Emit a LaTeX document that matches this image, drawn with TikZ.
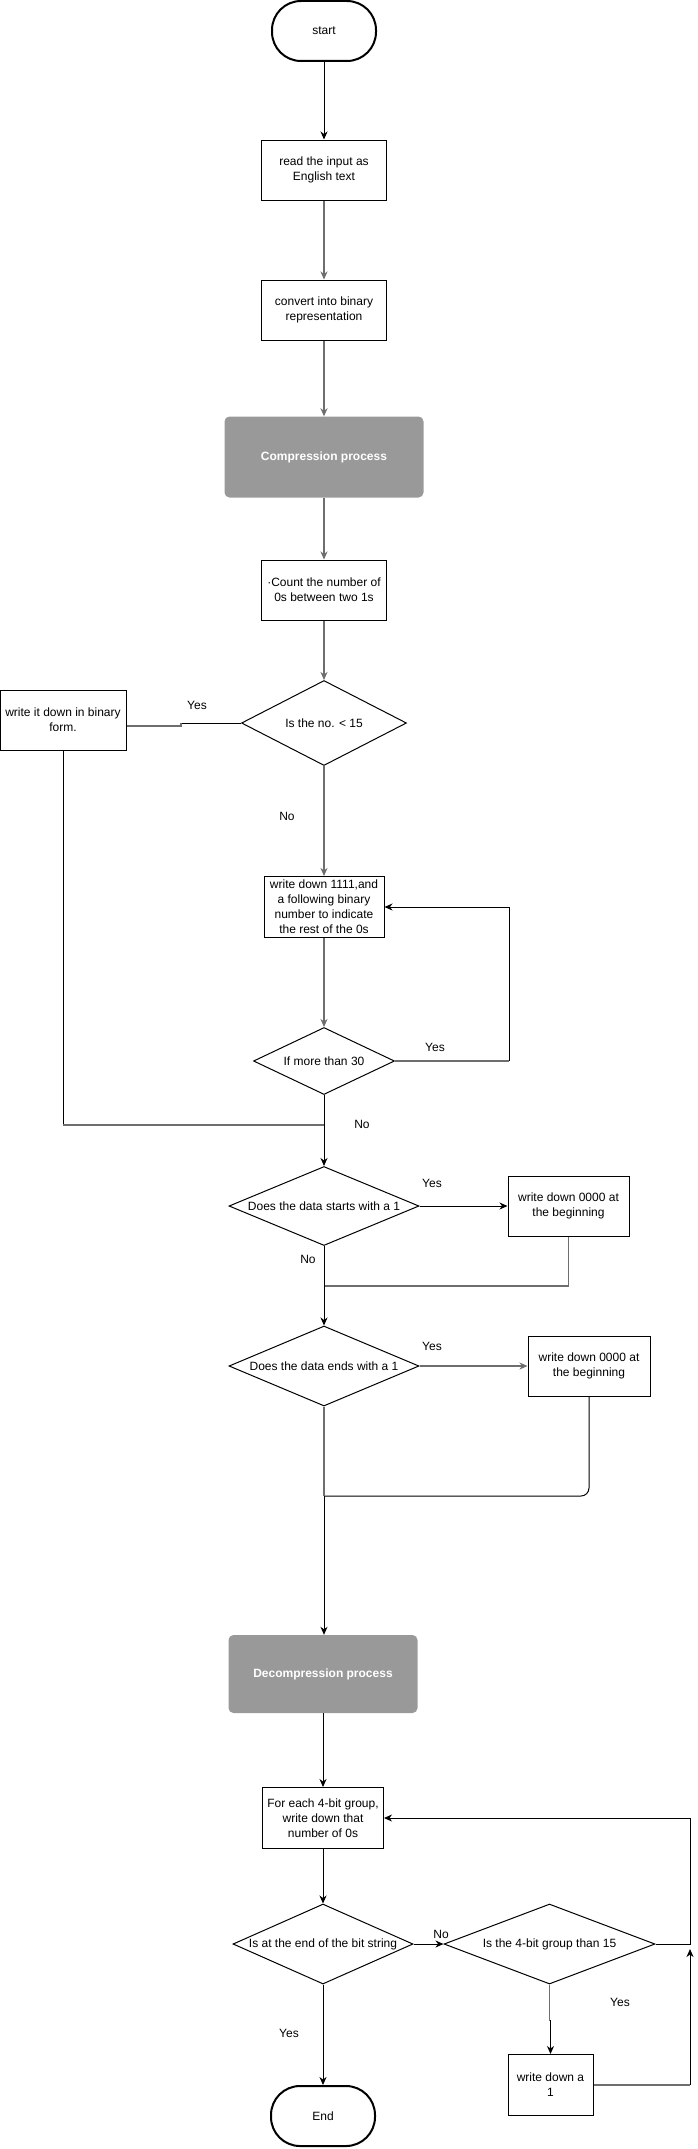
\documentclass[tikz,border=0pt]{standalone}
\usepackage{fontspec}
\setmainfont{Liberation Sans}
\usetikzlibrary{arrows.meta,shapes.geometric}
\definecolor{phasegray}{HTML}{999999}
\definecolor{wiregray}{HTML}{6E6E6E}
\newcommand{\Dtext}[1]{\makebox[0pt]{#1}}
\tikzset{
  every node/.style={font=\fontsize{12}{15}\selectfont},
  term/.style={draw=black,line width=2pt,rounded corners=29pt,minimum width=104pt,minimum height=60pt},
  box/.style={draw=black,line width=1pt,align=center,inner sep=2pt},
  phase/.style={fill=phasegray,rounded corners=5pt,text=white,font=\fontsize{12}{15}\selectfont\bfseries},
  decision/.style={diamond,draw=black,line width=1pt,inner sep=0pt},
  wire/.style={line width=1pt,draw=black},
  gwire/.style={line width=1.8pt,draw=wiregray},
}

\begin{document}
\begin{tikzpicture}[x=1pt,y=-1pt,>={Stealth[length=8pt,width=7pt,inset=2.5pt]}]
\useasboundingbox (0,0) rectangle (697,2149);
% compression
\node (start) [term] at (324,31) {start};
\node (read) [box,minimum width=125pt,minimum height=60pt] at (324,170) {read the input as\\English text};
\node (conv) [box,minimum width=125pt,minimum height=60pt] at (324,310) {convert into binary\\representation};
\node (comp) [phase,minimum width=199pt,minimum height=81pt] at (324,457) {Compression process};
\node (count) [box,minimum width=125pt,minimum height=60pt] at (324,590) {\textperiodcentered Count the number of\\0s between two 1s};
\node (less) [decision,minimum width=165pt,minimum height=85pt] at (324,723) {\Dtext{Is the no. < 15}};
\node (bin) [box,minimum width=126pt,minimum height=60pt] at (63,720) {write it down in binary\\form.};
\node (four) [box,minimum width=120pt,minimum height=61pt] at (324,907) {write down 1111,and\\a following binary\\number to indicate\\the rest of the 0s};
\node (more) [decision,minimum width=141pt,minimum height=67pt] at (324,1061) {\Dtext{If more than 30}};
\node (starts) [decision,minimum width=190pt,minimum height=79pt] at (324,1206) {\Dtext{Does the data starts with a 1}};
\node (zs) [box,minimum width=121pt,minimum height=60pt] at (568.5,1206) {write down 0000 at\\the beginning};
\node (ends) [decision,minimum width=190pt,minimum height=80pt] at (324,1366) {\Dtext{Does the data ends with a 1}};
\node (ze) [box,minimum width=122pt,minimum height=60pt] at (589,1366) {write down 0000 at\\the beginning};
\coordinate (mg1) at (324,1125);
\coordinate (mg2) at (324,1286);
\coordinate (mg3) at (324,1496);
%
\path[->,wire] (start) edge (read);
\path[->,gwire] (read) edge (conv);
\path[->,gwire] (conv) edge (comp);
\path[->,gwire] (comp) edge (count);
\path[->,gwire] (count) edge (less);
\path[->,gwire] (less) edge (four);
\path[->,gwire] (four) edge (more);
\draw[wire] (less.west) -- ++(-60,0) coordinate (step);
\draw[gwire] (step) |- ([yshift=-6pt]bin.east);
\draw[wire] (bin.south) -- (bin.south |- mg1);
\draw[gwire] (bin.south |- mg1) -- (mg1);
\draw[gwire] (more.east) -- ++(114,0) coordinate (loop);
\draw[->,wire] (loop) |- (four.east);
\path[->,wire] (more) edge (starts);
\path[->,wire] (starts) edge (zs);
\draw[gwire] (zs.south) |- (mg2);
\path[->,wire] (starts) edge (ends);
\path[->,gwire] (ends) edge (ze);
\draw[wire,rounded corners=8pt] (ze.south) |- (mg3);
%
\node (y1) at (197,705) {Yes};
\node (n1) at (287,816) {No};
\node (y2) at (435,1047) {Yes};
\node (n2) at (362,1124) {No};
\node (y3) at (432,1183) {Yes};
\node (n3) at (308,1259) {No};
\node (y4) at (432,1346) {Yes};

% decompression
\node (decomp) [phase,minimum width=189pt,minimum height=78pt] at (323,1674) {Decompression process};
\node (group) [box,minimum width=121pt,minimum height=61pt] at (323,1818) {For each 4-bit group,\\write down that\\number of 0s};
\node (endq) [decision,minimum width=180pt,minimum height=80pt] at (323,1944) {\Dtext{Is at the end of the bit string}};
\node (big) [decision,minimum width=211pt,minimum height=80pt] at (549.5,1944) {\Dtext{Is the 4-bit group than 15}};
\node (one) [box,minimum width=85pt,minimum height=61pt] at (550.5,2085) {write down a\\1};
\node (end) [term] at (323,2116) {End};
\coordinate (back) at (690,1949);
%
\draw[gwire] (ends.south) -- (mg3);
\draw[->,wire] (mg3) -- (mg3 |- decomp.north);
\path[->,wire] (decomp) edge (group);
\path[->,wire] (group) edge (endq);
\path[->,wire] (endq) edge (big);
\draw[->,wire] (big.east) -- (back |- big.east) |- (group.east);
\draw[gwire] (big.south) -- ++(0,36) coordinate (jog);
\draw[->,wire] (jog) -| (one.north);
\draw[gwire] (one.east) -- (back |- one.east);
\draw[->,wire] (back |- one.east) -- (back);
\path[->,wire] (endq) edge (end);
%
\node (n4) at (441,1934) {No};
\node (y5) at (620,2002) {Yes};
\node (y6) at (289,2033) {Yes};
\end{tikzpicture}
\end{document}
